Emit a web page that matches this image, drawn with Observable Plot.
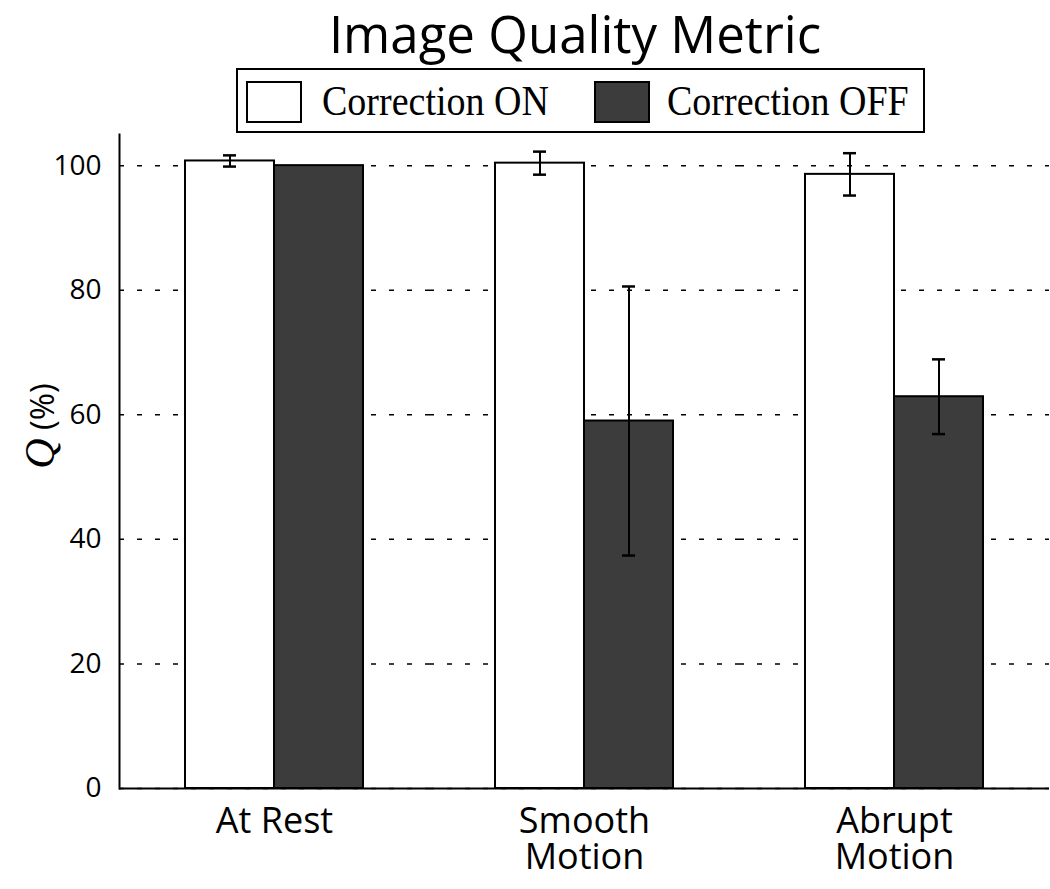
<!DOCTYPE html>
<html>
<head>
<meta charset="utf-8">
<script src="https://cdn.jsdelivr.net/npm/d3@7"></script>
<script src="https://cdn.jsdelivr.net/npm/@observablehq/plot@0.6"></script>
<style>
  html, body { margin: 0; padding: 0; background: #fff; overflow: hidden; }
  #wrap { position: relative; width: 1050px; height: 889px; }
  #chart { position: absolute; left: 0; top: 0; }
  #title { position: absolute; left: 225px; width: 700px; top: 8px; text-align: center;
    font-family: "Open Sans", sans-serif; font-size: 51px; line-height: 50px; color: #000; z-index: 2; white-space: nowrap; }
  #legend { position: absolute; left: 236px; top: 68px; width: 685px; height: 61px;
    border: 2px solid #000; background: #fff; z-index: 2; box-sizing: content-box; }
  .sw { position: absolute; top: 11px; width: 52px; height: 38px; border: 2px solid #000; }
  .lt { position: absolute; top: 4px; font-family: "Liberation Serif", "Times New Roman", serif;
    font-size: 38px; line-height: 52px; color: #000; white-space: nowrap; transform-origin: left center; transform: scaleY(1.12); }
  #ylabel { position: absolute; left: 40px; top: 426px; transform: translate(-50%, -50%) rotate(-90deg);
    white-space: nowrap; font-family: "Open Sans", sans-serif; font-size: 33px; color: #000; z-index: 2; }
  #ylabel i { font-family: "Liberation Serif", serif; font-size: 42px; }
</style>
</head>
<body>
<div id="wrap">
  <div id="chart"></div>
  <div id="title"></div>
  <div id="legend"></div>
  <div id="ylabel"><i>Q</i> (%)</div>
</div>
<script>
const groups = ["At Rest", "Smooth Motion", "Abrupt Motion"];
const groupLabels = ["At Rest", "Smooth\nMotion", "Abrupt\nMotion"];
const series = ["Correction ON", "Correction OFF"];
const onMean = [100.75, 100.4, 98.6];
const onErr = [0.9, 1.85, 3.4];
const offMean = [100.0, 59.0, 62.9];
const offErr = [0, 21.6, 6.0];
const yTicks = [0, 20, 40, 60, 80, 100];
const seriesFill = ["#ffffff", "#3c3c3c"];
const titleText = "Image Quality Metric";

const rows = groups.flatMap((g, i) => [
  {group: g, series: series[0], mean: onMean[i], err: onErr[i]},
  {group: g, series: series[1], mean: offMean[i], err: offErr[i]}
]);
const errRows = rows.filter(d => d.err > 0);
const labelOf = new Map(groups.map((g, i) => [g, groupLabels[i]]));

document.getElementById("title").textContent = titleText;

// legend
const legend = document.getElementById("legend");
const legendPos = [{sw: 8, tx: 84}, {sw: 356, tx: 429}];
series.forEach((s, i) => {
  const sw = document.createElement("div");
  sw.className = "sw";
  sw.style.left = legendPos[i].sw + "px";
  sw.style.background = seriesFill[i];
  legend.appendChild(sw);
  const t = document.createElement("div");
  t.className = "lt";
  t.style.left = legendPos[i].tx + "px";
  t.textContent = s;
  legend.appendChild(t);
});

const chart = Plot.plot({
  width: 1050,
  height: 889,
  marginTop: 134,
  marginBottom: 101,
  marginLeft: 118,
  marginRight: 1,
  style: {fontFamily: "'Open Sans', sans-serif", color: "#000", background: "transparent"},
  fx: {domain: groups, padding: 0, label: null},
  x: {domain: series, paddingInner: 0, paddingOuter: 0.74, axis: null},
  y: {domain: [0, 105], label: null},
  color: {domain: series, range: seriesFill},
  marks: [
    Plot.gridY(yTicks, {stroke: "#000", strokeOpacity: 1, strokeWidth: 1.5, strokeDasharray: "5,13"}),
    Plot.barY(rows, {fx: "group", x: "series", y: "mean", fill: "series", stroke: "#000", strokeWidth: 2}),
    Plot.ruleX(errRows, {fx: "group", x: "series", y1: d => d.mean - d.err, y2: d => d.mean + d.err, stroke: "#000", strokeWidth: 2}),
    Plot.tickY(errRows, {fx: "group", x: "series", y: d => d.mean - d.err, insetLeft: 38, insetRight: 38, stroke: "#000", strokeWidth: 2.5}),
    Plot.tickY(errRows, {fx: "group", x: "series", y: d => d.mean + d.err, insetLeft: 38, insetRight: 38, stroke: "#000", strokeWidth: 2.5}),
    Plot.ruleY([0], {stroke: "#000", strokeWidth: 2}),
    Plot.frame({anchor: "left", facetAnchor: "left", stroke: "#000", strokeWidth: 2}),
    Plot.axisY(yTicks, {anchor: "left", tickSize: 0, tickPadding: 18, fontSize: 28, label: null, tickFormat: d => String(d)}),
    Plot.axisFx({anchor: "bottom", tickSize: 0, tickPadding: 19, fontSize: 36, lineHeight: 1.0, label: null,
      tickFormat: d => labelOf.get(d)})
  ]
});
document.getElementById("chart").appendChild(chart);
</script>
</body>
</html>
